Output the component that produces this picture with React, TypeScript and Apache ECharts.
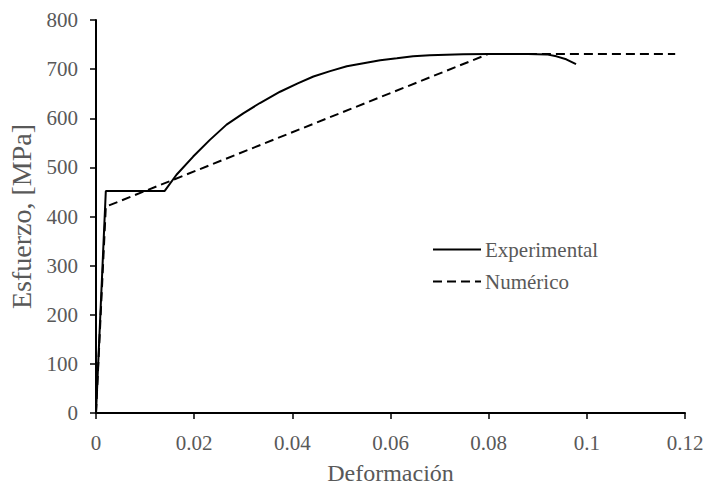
import React, { useEffect, useRef } from "react";
import * as echarts from "echarts";

const experimentalData: [number, number][] = [
  [0, 0], [0.002, 452], [0.014, 452], [0.0164, 485], [0.0198, 522], [0.0232, 556],
  [0.0266, 587], [0.030, 610], [0.0334, 631], [0.0375, 654], [0.0411, 671],
  [0.0443, 685], [0.0477, 696], [0.0511, 706], [0.0545, 712], [0.0579, 718],
  [0.0613, 722], [0.0646, 726], [0.068, 728], [0.0748, 730.5], [0.08, 731],
  [0.088, 731], [0.0918, 730], [0.0938, 726], [0.0958, 720], [0.0978, 710],
];
const numericoData: [number, number][] = [
  [0, 0], [0.002, 420], [0.08, 731], [0.118, 731],
];
const seriesNames = ["Experimental", "Numérico"];
const xTitle = "Deformación";
const yTitle = "Esfuerzo, [MPa]";

const FONT = "'Liberation Serif', 'Times New Roman', serif";
const GRAY = "#595959";

export default function App() {
  const ref = useRef<HTMLDivElement>(null);
  useEffect(() => {
    if (!ref.current) return;
    const chart = echarts.init(ref.current, undefined, { renderer: "svg" });
    chart.setOption({
      animation: false,
      textStyle: { fontFamily: FONT },
      grid: { left: 96, right: 20, top: 20, bottom: 75, containLabel: false, outerBoundsMode: "none" },
      legend: {
        orient: "vertical",
        left: 432,
        top: 239,
        padding: 0,
        itemWidth: 48,
        itemHeight: 14,
        itemGap: 11,
        itemStyle: { opacity: 0, borderWidth: 0 },
        textStyle: { color: GRAY, fontSize: 21, fontFamily: FONT, padding: [0, 0, 0, -1] },
        data: seriesNames,
      },
      xAxis: {
        type: "value",
        min: 0,
        max: 0.12,
        interval: 0.02,
        name: xTitle,
        nameLocation: "middle",
        nameGap: 48,
        nameTextStyle: { color: GRAY, fontSize: 24, fontFamily: FONT },
        axisLine: { onZero: false, lineStyle: { color: "#000", width: 2 } },
        axisTick: { show: true, inside: false, length: 6, lineStyle: { color: "#000", width: 1.5 } },
        axisLabel: { color: GRAY, fontSize: 21, fontFamily: FONT, margin: 19 },
        splitLine: { show: false },
      },
      yAxis: {
        type: "value",
        min: 0,
        max: 800,
        interval: 100,
        name: yTitle,
        nameLocation: "middle",
        nameGap: 56,
        nameTextStyle: { color: GRAY, fontSize: 28, fontFamily: FONT },
        axisLine: { show: true, onZero: false, lineStyle: { color: "#000", width: 2 } },
        axisTick: { show: true, inside: false, length: 6, lineStyle: { color: "#000", width: 1.5 } },
        axisLabel: { color: GRAY, fontSize: 21, fontFamily: FONT, margin: 18 },
        splitLine: { show: false },
      },
      series: [
        {
          name: seriesNames[0],
          type: "line",
          data: experimentalData,
          symbol: "none",
          smooth: false,
          lineStyle: { color: "#000", width: 2, type: "solid" },
          itemStyle: { color: "#000" },
        },
        {
          name: seriesNames[1],
          type: "line",
          data: numericoData,
          symbol: "none",
          lineStyle: { color: "#000", width: 2, type: [9, 5] },
          itemStyle: { color: "#000" },
        },
      ],
    });
    return () => chart.dispose();
  }, []);
  return <div ref={ref} style={{ width: 705, height: 488, position: "absolute", left: 0, top: 0 }} />;
}
